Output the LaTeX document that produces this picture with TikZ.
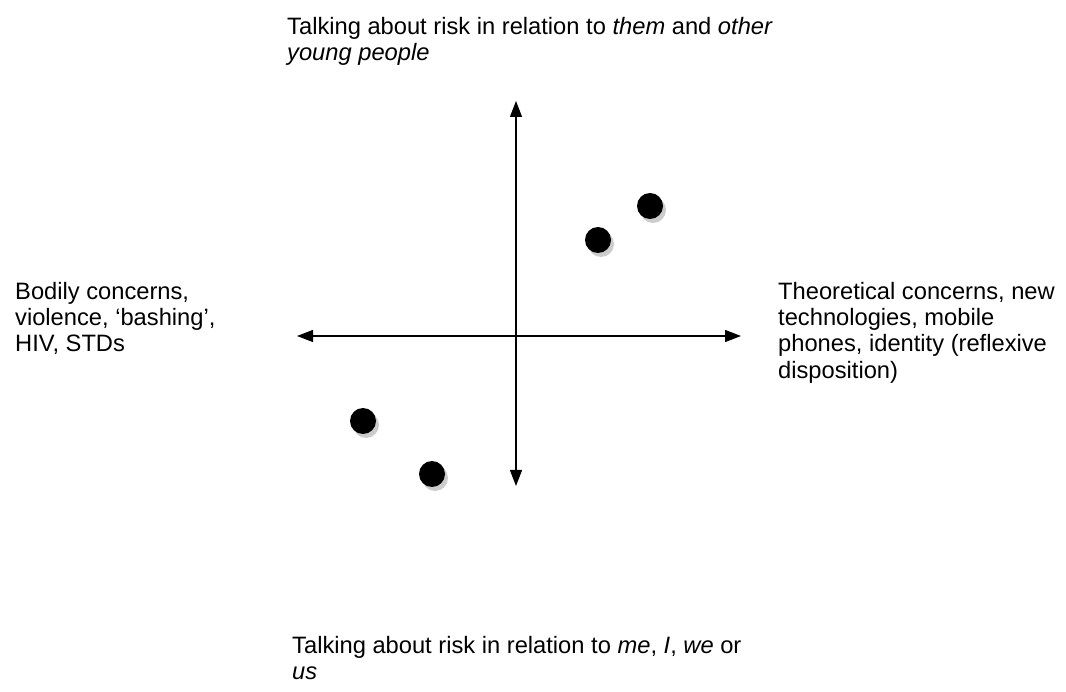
\documentclass[tikz,border=0pt]{standalone}
\usepackage{fontspec}
\setmainfont{Liberation Sans}
\usetikzlibrary{arrows.meta,shadows}

\begin{document}
\begin{tikzpicture}[
  x=1pt, y=-1pt,
  lbl/.style={anchor=north west, inner sep=0pt, align=left,
              font=\fontsize{23.7}{26.3}\selectfont},
  dot/.style={circle, fill=black, minimum width=26pt, minimum height=24pt,
              inner sep=0pt,
              drop shadow={shadow xshift=3pt, shadow yshift=-4pt,
                           fill=gray!40, opacity=1}},
  axis/.style={{Triangle[length=16pt,width=12pt]}-{Triangle[length=16pt,width=12pt]},
               line width=1.3pt}
]
\useasboundingbox (0,0) rectangle (1066,692);
% axes
\coordinate (west)  at (297,336);
\coordinate (east)  at (741,336);
\coordinate (north) at (516,101);
\coordinate (south) at (516,486);
\draw[axis] (west)--(east);
\draw[axis] (north)--(south);
% labels
\node[lbl] (top)   at (287,17)  {Talking about risk in relation to \textit{them} and \textit{other}\\\textit{young people}};
\node[lbl] (left)  at (15,282)  {Bodily concerns,\\violence, `bashing',\\HIV, STDs};
\node[lbl] (right) at (778,282) {Theoretical concerns, new\\technologies, mobile\\phones, identity (reflexive\\disposition)};
\node[lbl] (bot)   at (292,636) {Talking about risk in relation to \textit{me}, \textit{I}, \textit{we} or\\\textit{us}};
% dots
\node[dot] (d1) at (650,206) {};
\node[dot] (d2) at (598,240) {};
\node[dot] (d3) at (363,421) {};
\node[dot] (d4) at (432,474) {};
\end{tikzpicture}
\end{document}
